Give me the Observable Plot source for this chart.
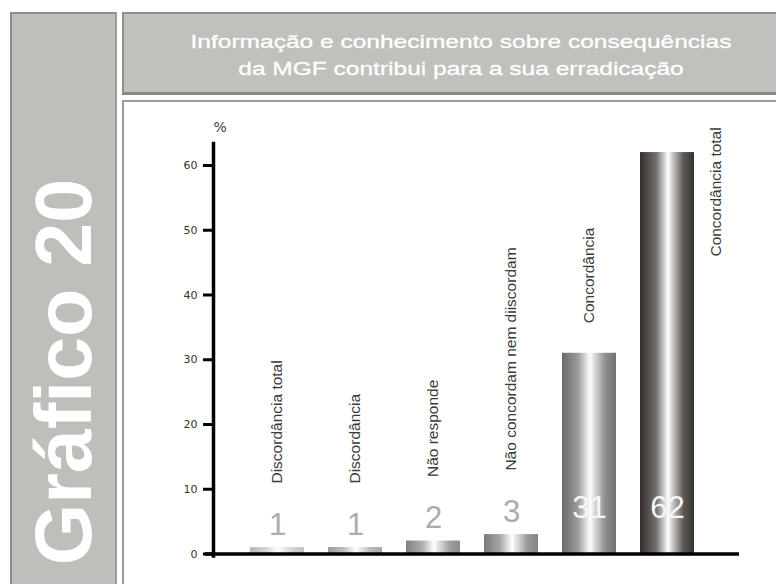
<!DOCTYPE html>
<html><head><meta charset="utf-8">
<script src="https://cdn.jsdelivr.net/npm/d3@7"></script>
<script src="https://cdn.jsdelivr.net/npm/@observablehq/plot@0.6"></script>
<style>
html,body{margin:0;padding:0;background:#fff;}
body{width:776px;height:584px;overflow:hidden;position:relative;font-family:"Liberation Sans",Arial,sans-serif;}
#side{position:absolute;left:10px;top:12px;width:107px;height:572px;background:#bebeba;border-left:2px solid #8e8e8a;border-right:2px solid #9c9c98;border-top:2px solid #8e8e8a;box-sizing:border-box;}
#side span{position:absolute;left:51px;top:358px;transform:translate(-50%,-50%) rotate(-90deg);white-space:nowrap;color:#fff;font-weight:bold;font-size:79px;line-height:1;}
#title{position:absolute;left:122px;top:12px;width:654px;height:83px;background:#c0c0bc;border-top:2px solid #8e8e8a;border-left:2px solid #8e8e8a;border-bottom:3px solid #8a8a86;box-sizing:border-box;}
#title div{position:absolute;left:0;right:0;top:14px;text-align:center;color:#fff;font-size:19px;line-height:27px;transform:translateX(11px) scaleX(1.29);-webkit-text-stroke:0.3px #fff;}
#panel{position:absolute;left:122px;top:100px;width:654px;height:484px;background:#fff;border-top:2px solid #9c9c9c;border-left:2px solid #9c9c9c;box-sizing:border-box;}
#chart{position:absolute;left:122px;top:100px;}
</style></head>
<body>
<div id="side"><span>Gráfico 20</span></div>
<div id="title"><div>Informação e conhecimento sobre consequências<br>da MGF contribui para a sua erradicação</div></div>
<div id="panel"></div>
<div id="chart"></div>
<script>
const categories = ["Discordância total", "Discordância", "Não responde", "Não concordam nem diiscordam", "Concordância", "Concordância total"];
const values = [1, 1, 2, 3, 31, 62];
const yTicks = [0, 10, 20, 30, 40, 50, 60];
const shades = ["#c4c4c4", "#a6a6a6", "#8a8a8a", "#828282", "#727272", "#37312e"];

const data = categories.map((c, i) => ({category: c, value: values[i], grad: `url(#bar${i})`}));
const small = data.filter(d => d.value < 10);
const large = data.filter(d => d.value >= 10);
const labelFont = {fontSize: 15.5, fill: "#3a3a3a", rotate: -90, textAnchor: "start", lineAnchor: "middle"};

const plot = Plot.plot({
  width: 654, height: 484,
  marginLeft: 91, marginRight: 46, marginTop: 43, marginBottom: 30.5,
  style: {background: "transparent", fontFamily: "'Liberation Sans', Arial, sans-serif", overflow: "visible"},
  x: {domain: categories, paddingInner: 0.313, paddingOuter: 0.445, axis: null},
  y: {domain: [0, 63.4], axis: null},
  color: {type: "identity"},
  marks: [
    Plot.barY(data, {x: "category", y: "value", fill: "grad"}),
    Plot.axisY({ticks: yTicks, tickSize: 10, strokeWidth: 3, stroke: "#000", label: null, tickFormat: () => ""}),
    Plot.text(yTicks, {y: d => d, text: d => String(d), frameAnchor: "left", dx: -16, textAnchor: "end", fontSize: 11, fontFamily: "DejaVu Sans", fill: "#333"}),
    Plot.frame({anchor: "left", stroke: "#000", strokeWidth: 3.5, insetBottom: -2}),
    Plot.ruleY([0], {stroke: "#000", strokeWidth: 3.5, insetLeft: -8, insetRight: -9}),
    Plot.text(["%"], {frameAnchor: "top-left", text: d => d, dy: -21, fontSize: 14, fontFamily: "DejaVu Sans", fill: "#3a3a3a"}),
    Plot.text(small, {x: "category", y: "value", text: d => String(d.value), dy: -13, lineAnchor: "bottom", fontSize: 31, fill: "#acacac"}),
    Plot.text(large, {x: "category", text: d => String(d.value), frameAnchor: "bottom", dy: -36.5, lineAnchor: "bottom", fontSize: 31, fill: "#f6f6f6"}),
    Plot.text(data.slice(0, 4), {x: "category", y: "value", text: "category", dy: -64, ...labelFont}),
    Plot.text(data.slice(4, 5), {x: "category", y: "value", text: "category", dy: -30, ...labelFont}),
    Plot.text(data.slice(5, 6), {x: "category", y: "value", text: "category", dx: 49, dy: 104, ...labelFont})
  ]
});

const svg = d3.select(plot);
const defs = svg.insert("defs", ":first-child");
shades.forEach((s, i) => {
  const g = defs.append("linearGradient").attr("id", `bar${i}`)
    .attr("x1", 0).attr("x2", 1).attr("y1", 0).attr("y2", 0);
  const toWhite = d3.interpolateRgb(s, "#ffffff");
  [[0, d3.color(s).darker(0.2)], [0.3, toWhite(0.3)], [0.52, "#ffffff"], [0.6, toWhite(0.75)], [0.8, toWhite(0.2)], [1, s]]
    .forEach(([o, c]) => g.append("stop").attr("offset", o).attr("stop-color", String(c)));
});
document.getElementById("chart").appendChild(plot);
</script>
</body></html>
